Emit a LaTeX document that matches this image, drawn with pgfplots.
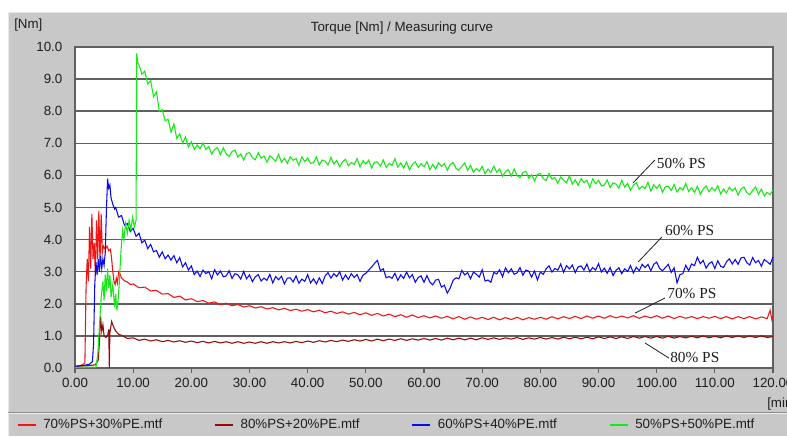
\documentclass[border=0pt]{standalone}
\usepackage{fontspec}
\setmainfont{Liberation Sans}
\newfontfamily\serif{Liberation Serif}
\usepackage{pgfplots}
\pgfplotsset{compat=1.18}
\definecolor{panel}{RGB}{200,200,200}
\definecolor{gridc}{RGB}{96,96,96}
\definecolor{cgreen}{RGB}{20,235,20}
\definecolor{cblue}{RGB}{10,10,235}
\definecolor{cred}{RGB}{240,20,20}
\definecolor{cdred}{RGB}{150,10,10}
\definecolor{txt}{RGB}{30,30,30}
\begin{document}
\begin{tikzpicture}[font=\fontsize{10}{12}\selectfont]
\path[use as bounding box] (-56.25pt,-51pt) rectangle (534pt,276pt);
\fill[white] (-56.25pt,-51pt) rectangle (534pt,276pt);
\fill[panel] (-50.25pt,-51pt) rectangle (534pt,267pt);
\draw[white!60!panel, line width=0.75pt] (-49.9pt,-51pt) -- (-49.9pt,266.6pt) -- (534pt,266.6pt);
\draw[black!45, line width=0.75pt] (-50.25pt,-33.0pt) -- (534pt,-33.0pt);
\draw[white!70!panel, line width=0.75pt] (-50.25pt,-33.75pt) -- (534pt,-33.75pt);
\begin{axis}[
  at={(0,0)}, anchor=south west,
  scale only axis, width=523.5pt, height=240.75pt,
  xmin=0, xmax=120, ymin=0, ymax=10,
  xtick={0,10,...,120}, ytick={0,1,...,10},
  scaled ticks=false,
  xticklabel style={/pgf/number format/fixed, /pgf/number format/fixed zerofill, /pgf/number format/precision=2, /pgf/number format/assume math mode=true},
  yticklabel style={/pgf/number format/fixed, /pgf/number format/fixed zerofill, /pgf/number format/precision=1, /pgf/number format/assume math mode=true, xshift=-2.25pt},
  tick label style={font=\fontsize{10}{12}\selectfont, text=txt},
  axis line style={draw=gridc, line width=1.2pt},
  ymajorgrids, grid style={gridc, line width=1.1pt},
  major tick length=3.75pt, tick align=outside,
  xtick pos=bottom, ytick pos=left,
  ytick style={draw=none}, xtick style={gridc, line width=0.9pt},
  axis background/.style={fill=white},
  clip=false,
  legend columns=4,
  legend style={draw=none, fill=none, at={(-0.0831,-0.1776)}, anchor=west,
    inner sep=0pt, outer sep=0pt,
    nodes={inner sep=0pt, text=txt, font=\fontsize{10}{12}\selectfont},
    /tikz/every odd column/.append style={column sep=5.25pt},
    /tikz/every even column/.append style={column sep=15.75pt}},
  legend image code/.code={\draw[#1, line width=1pt] (0pt,0pt) -- (13.5pt,0pt);},
  legend cell align=left,
]
\addplot[cred, line width=0.8pt, mark=none] coordinates {
(0,0.05)(1.0,0.08)(1.7,0.15)(1.9,2.5)(2.1,3.4)(2.3,2.7)(2.5,4.4)(2.7,3.1)(2.9,4.8)(3.1,3.4)(3.3,3.9)(3.5,2.9)(3.7,4.6)(3.9,3.4)(4.1,4.9)(4.3,3.3)(4.5,4.8)(4.7,3.6)(4.9,3.8)(5.2,3.7)(5.5,3.8)(5.8,3.65)(6.1,3.7)(6.3,3.4)(6.5,3.0)(6.7,2.7)(6.9,2.6)(7.1,2.8)(7.3,2.65)(7.5,3.0)(7.7,2.95)(8.0,2.8)(8.5,2.72)(9.0,2.68)(9.5,2.6)
(10,2.62)(11,2.5)(12,2.52)(13,2.4)(14,2.42)(15,2.3)(16,2.32)(17,2.2)(18,2.24)(19,2.12)(20,2.16)(21,2.07)(22,2.1)(23,2.02)(24,2.06)(25,1.97)(26,2.02)(27,1.94)(28,1.98)(29,1.9)(30,1.94)(31,1.87)(32,1.91)(33,1.84)(34,1.88)(35,1.81)(36,1.86)(37,1.79)(38,1.83)(39,1.77)(40,1.82)(41,1.75)(42,1.8)(43,1.72)(44,1.77)(45,1.7)(46,1.75)(47,1.68)(48,1.73)(49,1.66)(50,1.72)(51,1.64)(52,1.7)(53,1.62)(54,1.68)(55,1.6)(56,1.66)(57,1.58)(58,1.65)(59,1.57)(60,1.63)(61,1.56)(62,1.62)(63,1.55)(64,1.61)(65,1.53)(66,1.6)(67,1.52)(68,1.59)(69,1.52)(70,1.58)(71,1.51)(72,1.58)(73,1.5)(74,1.57)(75,1.51)(76,1.58)(77,1.5)(78,1.57)(79,1.52)(80,1.58)(81,1.52)(82,1.6)(83,1.53)(84,1.6)(85,1.54)(86,1.61)(87,1.54)(88,1.62)(89,1.55)(90,1.62)(91,1.55)(92,1.63)(93,1.56)(94,1.62)(95,1.56)(96,1.63)(97,1.55)(98,1.62)(99,1.56)(100,1.63)(101,1.55)(102,1.62)(103,1.54)(104,1.61)(105,1.55)(106,1.6)(107,1.54)(108,1.6)(109,1.55)(110,1.61)(111,1.54)(112,1.6)(113,1.53)(114,1.6)(115,1.54)(116,1.6)(117,1.53)(118,1.59)(119,1.54)(119.5,1.8)(119.8,1.5)(120,1.62)
};
\addlegendentry{\makebox[112.5pt][l]{70\%PS+30\%PE.mtf}}
\addplot[cdred, line width=0.8pt, mark=none] coordinates {
(0,0.05)(2,0.07)(3.5,0.1)(4.0,0.25)(4.2,0.8)(4.4,1.6)(4.6,1.15)(4.8,1.35)(5.0,1.0)(5.3,0.95)(5.6,1.0)(5.8,1.2)(5.9,0.0)(6.0,1.1)(6.3,1.45)(6.6,1.3)(7.0,1.15)(7.5,1.05)(8,1.02)(9,0.92)(10,0.94)(11,0.86)(12,0.9)(13,0.84)(14,0.88)(15,0.82)(16,0.86)
(17,0.81)(18,0.85)(19,0.8)(20,0.84)(21,0.79)(22,0.83)(23,0.78)(24,0.83)(25,0.78)(26,0.82)(27,0.77)(28,0.82)(29,0.77)(30,0.81)(31,0.77)(32,0.82)(33,0.77)(34,0.82)(35,0.78)(36,0.82)(37,0.78)(38,0.83)(39,0.79)(40,0.84)(41,0.8)(42,0.85)(43,0.81)(44,0.86)(45,0.82)(46,0.87)(47,0.83)(48,0.88)(49,0.84)(50,0.89)(51,0.84)(52,0.9)(53,0.85)(54,0.9)(55,0.86)(56,0.91)(57,0.86)(58,0.91)(59,0.87)(60,0.92)(61,0.87)(62,0.92)(63,0.87)(64,0.93)(65,0.88)(66,0.93)(67,0.88)(68,0.93)(69,0.88)(70,0.94)(71,0.89)(72,0.94)(73,0.89)(74,0.94)(75,0.9)(76,0.95)(77,0.89)(78,0.94)(79,0.9)(80,0.95)(81,0.9)(82,0.95)(83,0.9)(84,0.96)(85,0.91)(86,0.96)(87,0.91)(88,0.96)(89,0.91)(90,0.97)(91,0.92)(92,0.97)(93,0.92)(94,0.97)(95,0.92)(96,0.98)(97,0.93)(98,0.98)(99,0.93)(100,0.98)(101,0.93)(102,0.99)(103,0.93)(104,0.98)(105,0.94)(106,0.99)(107,0.94)(108,1.0)(109,0.94)(110,0.99)(111,0.94)(112,1.0)(113,0.95)(114,1.0)(115,0.95)(116,1.0)(117,0.95)(118,1.0)(119,0.95)(120,0.98)
};
\addlegendentry{\makebox[112.5pt][l]{80\%PS+20\%PE.mtf}}
\addplot[cblue, line width=0.8pt, mark=none] coordinates {
(0,0.05)(1.5,0.08)(2.5,0.12)(3.0,0.2)(3.2,0.8)(3.4,2.6)(3.6,3.3)(3.8,2.9)(4.0,3.4)(4.2,3.0)(4.4,3.5)(4.6,3.1)(4.8,3.4)(5.0,3.2)(5.2,3.6)(5.4,4.9)(5.6,5.9)(5.8,5.6)(6.0,5.7)(6.2,5.3)(6.5,5.1)(6.8,4.95)(7.0,5.0)(7.5,4.7)(8.0,4.75)(8.5,4.45)(9.0,4.5)(9.5,4.25)(10,4.35)(10.5,4.1)(11,4.2)(11.5,3.9)(12,3.98)(12.5,3.72)(13,3.85)(13.5,3.62)(14,3.66)(14.5,3.45)(15,3.62)(15.5,3.4)(16,3.52)(16.5,3.36)(17,3.5)(17.5,3.28)(18,3.44)(18.5,3.15)(19,3.28)(19.5,3.05)
(20.0,3.18)(20.5,2.91)(21.0,3.02)(21.5,2.85)(22.0,3.05)(22.5,2.94)(23.0,3.00)(23.5,2.78)(24.0,3.06)(24.5,2.90)(25.0,3.02)(25.5,2.84)(26.0,2.87)(26.5,3.03)(27.0,2.79)(27.5,2.94)(28.0,2.90)(28.5,2.77)(29.0,3.01)(29.5,2.78)(30.0,2.90)(30.5,2.69)(31.0,2.84)(31.5,2.91)(32.0,2.71)(32.5,2.80)(33.0,2.73)(33.5,2.92)(34.0,2.65)(34.5,2.85)(35.0,2.75)(35.5,2.86)(36.0,2.62)(36.5,2.80)(37.0,2.81)(37.5,2.68)(38.0,2.87)(38.5,2.64)(39.0,2.77)(39.5,2.70)(40.0,2.91)(40.5,2.65)(41.0,2.78)(41.5,2.62)(42.0,2.81)(42.5,2.63)(43.0,2.87)(43.5,2.97)(44.0,2.80)(44.5,2.94)(45.0,2.85)(45.5,3.00)(46.0,2.74)(46.5,2.90)(47.0,2.76)(47.5,2.94)(48.0,2.82)(48.5,2.91)(49.0,2.70)(49.5,2.89)(50.0,2.95)(50.5,3.05)(51.0,3.15)(51.5,3.26)(52.0,3.35)(52.5,3.03)(53.0,3.09)(53.5,2.81)(54.0,2.85)(54.5,2.79)(55.0,2.95)(55.5,2.73)(56.0,2.90)(56.5,2.79)(57.0,2.99)(57.5,2.81)(58.0,2.91)(58.5,2.67)(59.0,2.82)(59.5,2.87)(60.0,2.67)(60.5,2.88)(61.0,2.68)(61.5,2.59)(62.0,2.74)(62.5,2.76)(63.0,2.52)(63.5,2.58)(64.0,2.33)(64.5,2.49)(65.0,2.73)(65.5,2.81)(66.0,2.78)(66.5,3.04)(67.0,2.90)(67.5,2.97)(68.0,2.78)(68.5,2.99)(69.0,2.92)(69.5,2.83)(70.0,3.06)(70.5,2.71)(71.0,2.74)(71.5,2.67)(72.0,2.98)(72.5,2.93)(73.0,3.06)(73.5,2.84)(74.0,3.12)(74.5,2.97)(75.0,3.09)(75.5,2.92)(76.0,2.96)(76.5,3.13)(77.0,2.89)(77.5,3.05)(78.0,3.02)(78.5,2.83)(79.0,3.02)(79.5,2.74)(80.0,2.99)(80.5,2.92)(81.0,3.09)(81.5,3.18)(82.0,2.99)(82.5,3.10)(83.0,3.05)(83.5,3.24)(84.0,2.98)(84.5,3.19)(85.0,3.09)(85.5,3.21)(86.0,2.97)(86.5,3.15)(87.0,3.18)(87.5,3.05)(88.0,3.24)(88.5,3.00)(89.0,3.13)(89.5,3.05)(90.0,3.25)(90.5,2.99)(91.0,3.11)(91.5,2.95)(92.0,3.13)(92.5,2.88)(93.0,3.04)(93.5,3.12)(94.0,2.94)(94.5,3.09)(95.0,3.01)(95.5,3.19)(96.0,2.96)(96.5,3.14)(97.0,3.03)(97.5,3.23)(98.0,3.13)(98.5,3.23)(99.0,3.03)(99.5,3.23)(100.0,3.30)(100.5,3.10)(101.0,3.03)(101.5,3.13)(102.0,3.23)(102.5,2.98)(103.0,3.12)(103.5,2.65)(104.0,2.91)(104.5,2.94)(105.0,3.20)(105.5,3.03)(106.0,3.24)(106.5,3.19)(107.0,3.45)(107.5,3.25)(108.0,3.35)(108.5,3.11)(109.0,3.25)(109.5,3.31)(110.0,3.10)(110.5,3.34)(111.0,3.17)(111.5,3.13)(112.0,3.31)(112.5,3.40)(113.0,3.24)(113.5,3.38)(114.0,3.23)(114.5,3.43)(115.0,3.45)(115.5,3.28)(116.0,3.21)(116.5,3.44)(117.0,3.28)(117.5,3.35)(118.0,3.17)(118.5,3.38)(119.0,3.31)(119.5,3.23)(120.0,3.46)
};
\addlegendentry{\makebox[112.5pt][l]{60\%PS+40\%PE.mtf}}
\addplot[cgreen, line width=0.8pt, mark=none] coordinates {
(0,0.02)(3.6,0.03)(3.9,0.4)(4.2,1.3)(4.5,2.2)(4.8,2.7)(5.0,2.1)(5.2,2.9)(5.4,2.4)(5.6,3.1)(5.8,2.5)(6.0,2.9)(6.2,2.2)(6.5,2.6)(6.8,1.9)(7.0,2.3)(7.2,1.8)(7.4,2.1)(7.6,2.6)(7.8,3.3)(8.0,3.9)(8.2,4.3)(8.4,4.0)(8.7,4.5)(9.0,4.2)(9.3,4.6)(9.6,4.3)(9.9,4.7)(10.2,4.4)(10.5,4.6)(10.6,9.8)(10.8,9.5)
(11,9.45)(11.5,9.15)(12,9.25)(12.5,8.85)(13,8.95)(13.5,8.45)(14,8.6)(14.5,8.0)(15,8.05)(15.5,7.7)(16,7.75)(16.5,7.35)(17,7.6)(17.5,7.15)(18,7.3)(18.5,7.0)(19,7.2)(19.5,6.88)
(20.0,7.05)(20.5,6.81)(21.0,6.95)(21.5,6.83)(22.0,7.01)(22.5,6.81)(23.0,6.90)(23.5,6.66)(24.0,6.81)(24.5,6.86)(25.0,6.65)(25.5,6.86)(26.0,6.67)(26.5,6.59)(27.0,6.74)(27.5,6.79)(28.0,6.57)(28.5,6.67)(29.0,6.48)(29.5,6.68)(30.0,6.71)(30.5,6.55)(31.0,6.49)(31.5,6.71)(32.0,6.54)(32.5,6.60)(33.0,6.41)(33.5,6.61)(34.0,6.53)(34.5,6.44)(35.0,6.66)(35.5,6.41)(36.0,6.53)(36.5,6.37)(37.0,6.58)(37.5,6.47)(38.0,6.53)(38.5,6.31)(39.0,6.58)(39.5,6.43)(40.0,6.54)(40.5,6.37)(41.0,6.40)(41.5,6.57)(42.0,6.32)(42.5,6.48)(43.0,6.44)(43.5,6.32)(44.0,6.56)(44.5,6.35)(45.0,6.47)(45.5,6.27)(46.0,6.43)(46.5,6.50)(47.0,6.30)(47.5,6.40)(48.0,6.34)(48.5,6.52)(49.0,6.26)(49.5,6.46)(50.0,6.36)(50.5,6.48)(51.0,6.23)(51.5,6.41)(52.0,6.42)(52.5,6.29)(53.0,6.48)(53.5,6.25)(54.0,6.38)(54.5,6.31)(55.0,6.52)(55.5,6.26)(56.0,6.39)(56.5,6.23)(57.0,6.42)(57.5,6.17)(58.0,6.34)(58.5,6.42)(59.0,6.25)(59.5,6.37)(60.0,6.27)(60.5,6.43)(61.0,6.18)(61.5,6.34)(62.0,6.20)(62.5,6.39)(63.0,6.28)(63.5,6.37)(64.0,6.16)(64.5,6.34)(65.0,6.40)(65.5,6.22)(66.0,6.16)(66.5,6.28)(67.0,6.39)(67.5,6.16)(68.0,6.31)(68.5,6.10)(69.0,6.21)(69.5,6.13)(70.0,6.28)(70.5,6.05)(71.0,6.20)(71.5,6.09)(72.0,6.29)(72.5,6.10)(73.0,6.20)(73.5,5.97)(74.0,6.12)(74.5,6.18)(75.0,5.98)(75.5,6.20)(76.0,6.00)(76.5,5.93)(77.0,6.09)(77.5,6.13)(78.0,5.92)(78.5,6.02)(79.0,5.83)(79.5,6.03)(80.0,6.06)(80.5,5.90)(81.0,5.84)(81.5,6.06)(82.0,5.88)(82.5,5.94)(83.0,5.75)(83.5,5.95)(84.0,5.86)(84.5,5.77)(85.0,5.99)(85.5,5.73)(86.0,5.86)(86.5,5.69)(87.0,5.90)(87.5,5.78)(88.0,5.85)(88.5,5.62)(89.0,5.89)(89.5,5.74)(90.0,5.85)(90.5,5.67)(91.0,5.70)(91.5,5.86)(92.0,5.62)(92.5,5.77)(93.0,5.73)(93.5,5.60)(94.0,5.85)(94.5,5.63)(95.0,5.75)(95.5,5.54)(96.0,5.70)(96.5,5.77)(97.0,5.57)(97.5,5.66)(98.0,5.59)(98.5,5.78)(99.0,5.51)(99.5,5.71)(100.0,5.60)(100.5,5.72)(101.0,5.47)(101.5,5.65)(102.0,5.66)(102.5,5.53)(103.0,5.72)(103.5,5.48)(104.0,5.62)(104.5,5.54)(105.0,5.75)(105.5,5.50)(106.0,5.62)(106.5,5.47)(107.0,5.66)(107.5,5.41)(108.0,5.58)(108.5,5.67)(109.0,5.49)(109.5,5.62)(110.0,5.52)(110.5,5.68)(111.0,5.42)(111.5,5.58)(112.0,5.45)(112.5,5.63)(113.0,5.52)(113.5,5.61)(114.0,5.39)(114.5,5.58)(115.0,5.64)(115.5,5.46)(116.0,5.40)(116.5,5.53)(117.0,5.64)(117.5,5.41)(118.0,5.57)(118.5,5.36)(119.0,5.47)(119.5,5.40)(120.0,5.55)
};
\addlegendentry{\makebox[112.5pt][l]{50\%PS+50\%PE.mtf}}
% titles and units
\node[text=txt] at (axis description cs:0.4685,1.059) {Torque [Nm] / Measuring curve};
\node[anchor=west, text=txt, inner sep=0pt] at (axis description cs:-0.0874,1.0685) {[Nm]};
\node[anchor=west, text=txt, inner sep=0pt] at (axis description cs:0.9914,-0.112) {[min]};
% annotations
\draw[txt, line width=0.6pt] (axis cs:95.9,5.76) -- (axis cs:99.7,6.48);
\node[anchor=west, inner sep=0pt, text=txt, font={\serif\fontsize{11.5}{13}\selectfont}] at (axis cs:100.0,6.36) {50\% PS};
\draw[txt, line width=0.6pt] (axis cs:96.8,3.30) -- (axis cs:100.9,4.08);
\node[anchor=west, inner sep=0pt, text=txt, font={\serif\fontsize{11.5}{13}\selectfont}] at (axis cs:101.4,4.27) {60\% PS};
\draw[txt, line width=0.6pt] (axis cs:96.3,1.71) -- (axis cs:101.4,2.18);
\node[anchor=west, inner sep=0pt, text=txt, font={\serif\fontsize{11.5}{13}\selectfont}] at (axis cs:101.8,2.31) {70\% PS};
\draw[txt, line width=0.6pt] (axis cs:98.0,0.78) -- (axis cs:102.1,0.31);
\node[anchor=west, inner sep=0pt, text=txt, font={\serif\fontsize{11.5}{13}\selectfont}] at (axis cs:102.3,0.34) {80\% PS};
\end{axis}
\end{tikzpicture}
\end{document}
